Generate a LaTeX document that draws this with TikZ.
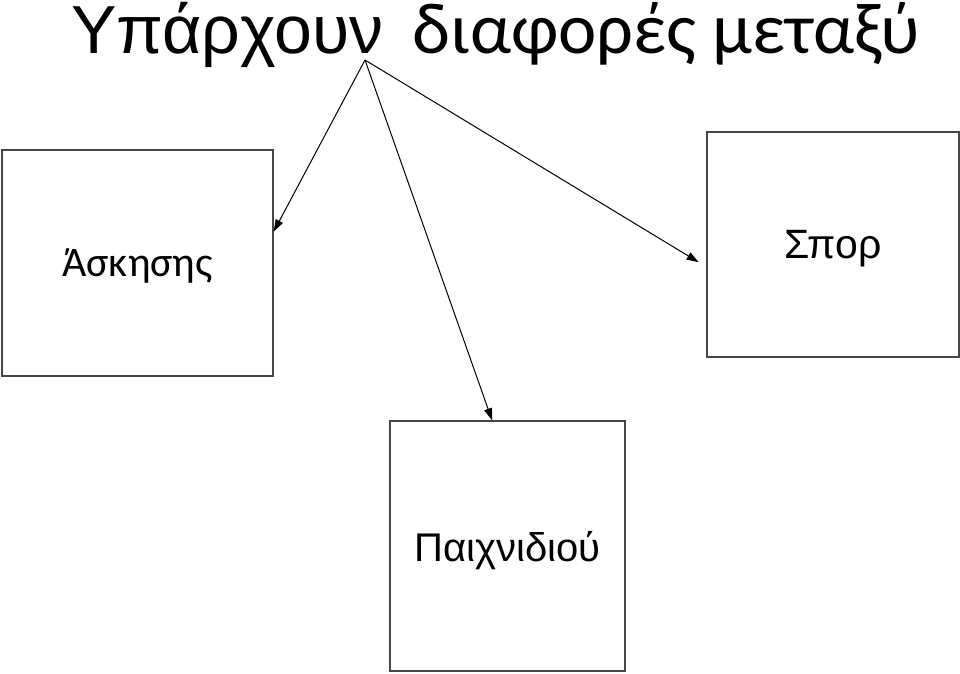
\documentclass[tikz,border=0pt]{standalone}
\usepackage{fontspec}
\usepackage{xcolor}
\usepackage{tikz}
\usetikzlibrary{arrows.meta}
\setmainfont{Liberation Sans}
\newfontfamily\calibrifont{Carlito}
\definecolor{boxgray}{RGB}{70,70,70}

\begin{document}
\begin{tikzpicture}[x=1pt,y=-1pt,
    choicebox/.style={draw=boxgray, line width=1.4pt, inner sep=0pt, text depth=0pt, fill=white},
    arr/.style={-{Triangle[length=12pt,width=8pt]}, line width=1pt, black}]
    % Canvas of the reference size
    \useasboundingbox (0,0) rectangle (960,673);

    % Title line
    \node[anchor=base west, inner sep=0pt] (title) at (71,53)
        {\fontsize{68}{70}\selectfont Υπάρχουν\hspace{10pt} {\calibrifont\fontsize{72.5}{76}\selectfont διαφορές μεταξύ}};
    \coordinate (src) at (365,60);

    % Three boxes
    \node[choicebox, minimum width=271pt, minimum height=226pt] (askisi) at (137.5,263)
        {\calibrifont\fontsize{42}{46}\selectfont Άσκησης};
    \node[choicebox, minimum width=252pt, minimum height=225pt] (spor) at (833,244.5)
        {\fontsize{41}{46}\selectfont Σπορ};
    \node[choicebox, minimum width=235pt, minimum height=250pt] (paixnidi) at (507.5,546)
        {\fontsize{40}{46}\selectfont Παιχνιδιού};

    % Arrows from the title
    \draw[arr] (src) -- (askisi.13);
    \draw[arr] (src) -- (paixnidi.97);
    \draw[arr, shorten >=9pt] (src) -- (spor.190);
\end{tikzpicture}
\end{document}
